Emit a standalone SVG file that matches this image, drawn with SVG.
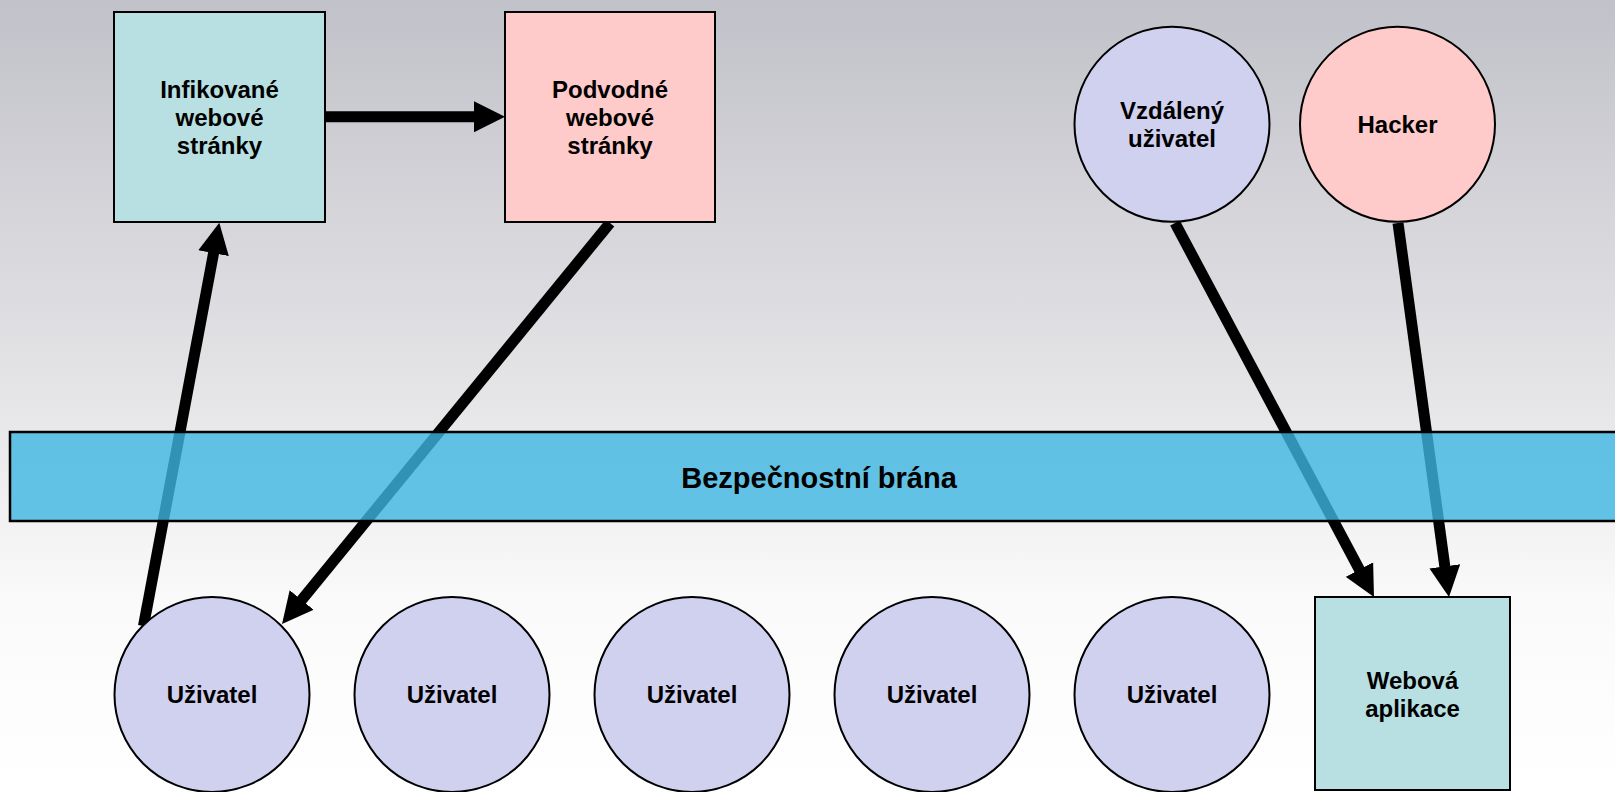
<svg xmlns="http://www.w3.org/2000/svg" width="1615" height="792" viewBox="0 0 1615 792">
<defs>
<linearGradient id="bg" x1="0" y1="0" x2="0" y2="792" gradientUnits="userSpaceOnUse">
<stop offset="0" stop-color="#c1c1c9"/>
<stop offset="0.55" stop-color="#e9e9eb"/>
<stop offset="0.76" stop-color="#fafafa"/>
<stop offset="1" stop-color="#ffffff"/>
</linearGradient>
<marker id="ah" viewBox="0 -16 32 32" markerWidth="32" markerHeight="32" refX="11" refY="0" orient="auto" markerUnits="userSpaceOnUse">
<path d="M0,-15.5 L31,0 L0,15.5 z" fill="#000"/>
</marker>
<style>
.lbl{font-family:"Liberation Sans",Arial,sans-serif;font-weight:bold;font-size:24px;fill:#000;text-anchor:middle}
.big{font-size:29px}
.edge{stroke:#000;stroke-width:11;fill:none;marker-end:url(#ah)}
.nd{stroke:#000;stroke-width:2}
.teal{fill:#b8e0e2}
.pink{fill:#ffcaca}
.lav{fill:#d0d0ef}
</style>
</defs>
<rect x="0" y="0" width="1615" height="792" fill="url(#bg)"/>
<g id="connectors">
<line class="edge" x1="325" y1="116.7" x2="485" y2="116.7"/>
<line class="edge" x1="143.5" y1="626" x2="215.6" y2="242.4"/>
<line class="edge" x1="610" y1="223" x2="294.7" y2="608.5"/>
<line class="edge" x1="1175" y1="223" x2="1364.6" y2="579.3"/>
<line class="edge" x1="1398" y1="223" x2="1446.3" y2="577.2"/>
</g>
<g id="gateway">
<rect x="10" y="432" width="1620" height="89" fill="#3db7e2" fill-opacity="0.8" stroke="#000" stroke-width="2.5"/>
<text class="lbl big" x="819" y="487.5">Bezpečnostní brána</text>
</g>
<g id="infected">
<rect class="nd teal" x="114" y="12" width="211" height="210"/>
<text class="lbl" x="219.5" y="97.5">Infikované</text>
<text class="lbl" x="219.5" y="125.5">webové</text>
<text class="lbl" x="219.5" y="153.5">stránky</text>
</g>
<g id="phishing">
<rect class="nd pink" x="505" y="12" width="210" height="210"/>
<text class="lbl" x="610" y="97.5">Podvodné</text>
<text class="lbl" x="610" y="125.5">webové</text>
<text class="lbl" x="610" y="153.5">stránky</text>
</g>
<g id="remote-user">
<circle class="nd lav" cx="1172" cy="124.3" r="97.5"/>
<text class="lbl" x="1172" y="118.5">Vzdálený</text>
<text class="lbl" x="1172" y="146.5">uživatel</text>
</g>
<g id="hacker">
<circle class="nd pink" cx="1397.5" cy="124.3" r="97.5"/>
<text class="lbl" x="1397.5" y="133">Hacker</text>
</g>
<g id="user1">
<circle class="nd lav" cx="212" cy="694.5" r="97.5"/>
<text class="lbl" x="212" y="703">Uživatel</text>
</g>
<g id="user2">
<circle class="nd lav" cx="452" cy="694.5" r="97.5"/>
<text class="lbl" x="452" y="703">Uživatel</text>
</g>
<g id="user3">
<circle class="nd lav" cx="692" cy="694.5" r="97.5"/>
<text class="lbl" x="692" y="703">Uživatel</text>
</g>
<g id="user4">
<circle class="nd lav" cx="932" cy="694.5" r="97.5"/>
<text class="lbl" x="932" y="703">Uživatel</text>
</g>
<g id="user5">
<circle class="nd lav" cx="1172" cy="694.5" r="97.5"/>
<text class="lbl" x="1172" y="703">Uživatel</text>
</g>
<g id="webapp">
<rect class="nd teal" x="1315" y="597" width="195" height="193"/>
<text class="lbl" x="1412.5" y="688.5">Webová</text>
<text class="lbl" x="1412.5" y="716.5">aplikace</text>
</g>
</svg>
